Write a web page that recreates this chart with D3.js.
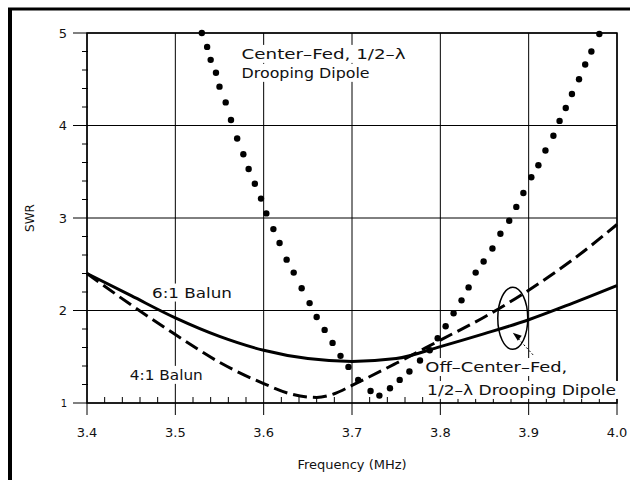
<!DOCTYPE html>
<html>
<head>
<meta charset="utf-8">
<script src="https://cdn.jsdelivr.net/npm/d3@7"></script>
<style>
  body { margin: 0; background: #fff; }
  text { font-family: "DejaVu Sans", sans-serif; fill: #111; }
</style>
</head>
<body>
<script>
// swr curves
var freqs6 = [3.40, 3.45, 3.50, 3.55, 3.60, 3.65, 3.70, 3.75, 3.80, 3.85, 3.90, 3.95, 4.00];
var swr6 = [2.40, 2.16, 1.92, 1.72, 1.57, 1.48, 1.45, 1.48, 1.61, 1.75, 1.90, 2.08, 2.27];

var freqs4 = [3.40, 3.45, 3.50, 3.55, 3.60, 3.63, 3.66, 3.68, 3.70, 3.75, 3.80, 3.85, 3.90, 3.95, 4.00];
var swr4 = [2.40, 2.06, 1.74, 1.44, 1.21, 1.10, 1.06, 1.10, 1.19, 1.43, 1.68, 1.93, 2.22, 2.55, 2.93];

// center-fed dipole, dotted
var dotFreqs = [3.530, 3.536, 3.540, 3.546, 3.550, 3.557, 3.563, 3.570, 3.577, 3.583, 3.590, 3.597, 3.603,
    3.611, 3.618, 3.626, 3.634, 3.643, 3.652, 3.660, 3.669, 3.678, 3.687, 3.696, 3.707, 3.721, 3.731,
    3.743, 3.754, 3.765, 3.777, 3.788, 3.797, 3.806, 3.815, 3.824, 3.832, 3.840, 3.849, 3.859, 3.868,
    3.878, 3.886, 3.894, 3.903, 3.911, 3.919, 3.928, 3.935, 3.942, 3.949, 3.957, 3.964, 3.971, 3.980];
var dotSwr = [5.00, 4.85, 4.71, 4.57, 4.42, 4.25, 4.06, 3.86, 3.69, 3.53, 3.37, 3.21, 3.05,
    2.88, 2.73, 2.55, 2.41, 2.24, 2.08, 1.93, 1.79, 1.65, 1.51, 1.39, 1.25, 1.13, 1.08,
    1.16, 1.25, 1.34, 1.46, 1.57, 1.70, 1.83, 1.97, 2.11, 2.25, 2.41, 2.53, 2.67, 2.83,
    2.97, 3.12, 3.27, 3.44, 3.57, 3.73, 3.89, 4.05, 4.19, 4.34, 4.50, 4.66, 4.80, 4.99];

var xTicks = [3.4, 3.5, 3.6, 3.7, 3.8, 3.9, 4.0];
var xTickLabels = ["3.4", "3.5", "3.6", "3.7", "3.8", "3.9", "4.0"];
var yTicks = [1, 2, 3, 4, 5];

var width = 630, height = 480;

var svg = d3.select("body").append("svg")
    .attr("width", width)
    .attr("height", height);

svg.append("rect").attr("width", width).attr("height", height).attr("fill", "#fff");

// page frame, only left and top edges show
svg.append("line").attr("x1", 10).attr("y1", 8).attr("x2", 10).attr("y2", 480)
    .attr("stroke", "#000").attr("stroke-width", 4);
svg.append("line").attr("x1", 8).attr("y1", 9).attr("x2", 630).attr("y2", 9)
    .attr("stroke", "#000").attr("stroke-width", 3);

var x = d3.scaleLinear().domain([3.4, 4.0]).range([87, 617]);
var y = d3.scaleLinear().domain([1, 5]).range([403, 33]);

// grid lines
var grid = svg.append("g").attr("stroke", "#000").attr("stroke-width", 1);
grid.selectAll(".vg").data(xTicks).enter().append("line")
    .attr("x1", function(d) { return x(d); })
    .attr("x2", function(d) { return x(d); })
    .attr("y1", y(5))
    .attr("y2", y(1) + 12);
grid.selectAll(".hg").data(yTicks).enter().append("line")
    .attr("x1", x(3.4) - 14)
    .attr("x2", x(4.0))
    .attr("y1", function(d) { return y(d); })
    .attr("y2", function(d) { return y(d); });

// minor ticks
var minorX = d3.range(3.42, 4.0, 0.02).filter(function(d) { return Math.abs(d * 10 - Math.round(d * 10)) > 0.01; });
var minorY = d3.range(1.2, 5, 0.2).filter(function(d) { return Math.abs(d - Math.round(d)) > 0.01; });
grid.selectAll(".mx").data(minorX).enter().append("line")
    .attr("x1", function(d) { return x(d); })
    .attr("x2", function(d) { return x(d); })
    .attr("y1", y(1))
    .attr("y2", y(1) - 6);
grid.selectAll(".my").data(minorY).enter().append("line")
    .attr("x1", x(3.4) - 5)
    .attr("x2", x(3.4) + 1)
    .attr("y1", function(d) { return y(d); })
    .attr("y2", function(d) { return y(d); });

svg.append("rect")
    .attr("x", x(3.4)).attr("y", y(5))
    .attr("width", x(4.0) - x(3.4)).attr("height", y(1) - y(5))
    .attr("fill", "none").attr("stroke", "#000").attr("stroke-width", 1.5);

// tick labels
svg.append("g").selectAll("text").data(xTicks).enter().append("text")
    .attr("x", function(d) { return x(d); })
    .attr("y", 437)
    .attr("text-anchor", "middle")
    .style("font-size", "13px")
    .text(function(d, i) { return xTickLabels[i]; });
svg.append("g").selectAll("text").data(yTicks).enter().append("text")
    .attr("x", 67)
    .attr("y", function(d) { return y(d); })
    .attr("dy", "0.35em")
    .attr("text-anchor", "end")
    .style("font-size", d => d == 1 ? "10px" : "13px")
    .text(function(d) { return d; });

svg.append("text")
    .attr("transform", "translate(34,218) rotate(-90)")
    .attr("text-anchor", "middle")
    .style("font-size", "12px")
    .text("SWR");
svg.append("text")
    .attr("x", 352).attr("y", 469)
    .attr("text-anchor", "middle")
    .style("font-size", "13px")
    .text("Frequency (MHz)");

// labels sit on white boxes that blank the grid behind them
var labels = [
    { t: "Center\u2013Fed, 1/2\u2013\u03bb", f: 3.575, s: 4.72, w: 164 },
    { t: "Drooping Dipole", f: 3.575, s: 4.515, w: 128 },
    { t: "6:1 Balun", f: 3.4736, s: 2.14, w: 80 },
    { t: "4:1 Balun", f: 3.4485, s: 1.25, w: 73 },
    { t: "Off\u2013Center\u2013Fed,", f: 3.783, s: 1.335, w: 142 },
    { t: "1/2\u2013\u03bb Drooping Dipole", f: 3.785, s: 1.087, w: 189 }
];
var boxLayer = svg.append("g");
var textLayer;

// curves
var line6 = d3.line().curve(d3.curveMonotoneX)
    .x(function(d, i) { return x(freqs6[i]); })
    .y(function(d) { return y(d); });
var line4 = d3.line().curve(d3.curveMonotoneX)
    .x(function(d, i) { return x(freqs4[i]); })
    .y(function(d) { return y(d); });

svg.append("path").datum(swr6).attr("d", line6)
    .attr("fill", "none").attr("stroke", "#000").attr("stroke-width", 3);
svg.append("path").datum(swr4).attr("d", line4)
    .attr("fill", "none").attr("stroke", "#000").attr("stroke-width", 3)
    .attr("stroke-dasharray", "14,6");

svg.append("g").selectAll("circle").data(dotSwr).enter().append("circle")
    .attr("cx", function(d, i) { return x(dotFreqs[i]); })
    .attr("cy", function(d) { return y(d); })
    .attr("r", 3.2)
    .attr("fill", "#000");

textLayer = svg.append("g");
labels.forEach(function(l) {
    var t = textLayer.append("text")
        .attr("x", x(l.f)).attr("y", y(l.s))
        .attr("textLength", l.w).attr("lengthAdjust", "spacingAndGlyphs")
        .style("font-size", "13.5px")
        .text(l.t);
    var b = t.node().getBBox();
    boxLayer.append("rect")
        .attr("x", b.x - 2).attr("y", b.y - 1)
        .attr("width", b.width + 4).attr("height", b.height + 2)
        .attr("fill", "#fff");
});

// ellipse and arrow marking the off-center-fed pair
svg.append("ellipse")
    .attr("cx", x(3.882)).attr("cy", y(1.915))
    .attr("rx", 15).attr("ry", 31)
    .attr("fill", "none").attr("stroke", "#000").attr("stroke-width", 1.5);

svg.append("line")
    .attr("x1", x(3.905)).attr("y1", y(1.52))
    .attr("x2", x(3.886)).attr("y2", y(1.72))
    .attr("stroke", "#000").attr("stroke-width", 1).attr("stroke-dasharray", "2,2");
var tip = [x(3.882), y(1.76)];
svg.append("path")
    .attr("d", "M" + tip[0] + "," + tip[1] + "l9,3l-4,5z")
    .attr("fill", "#000");
</script>
</body>
</html>
